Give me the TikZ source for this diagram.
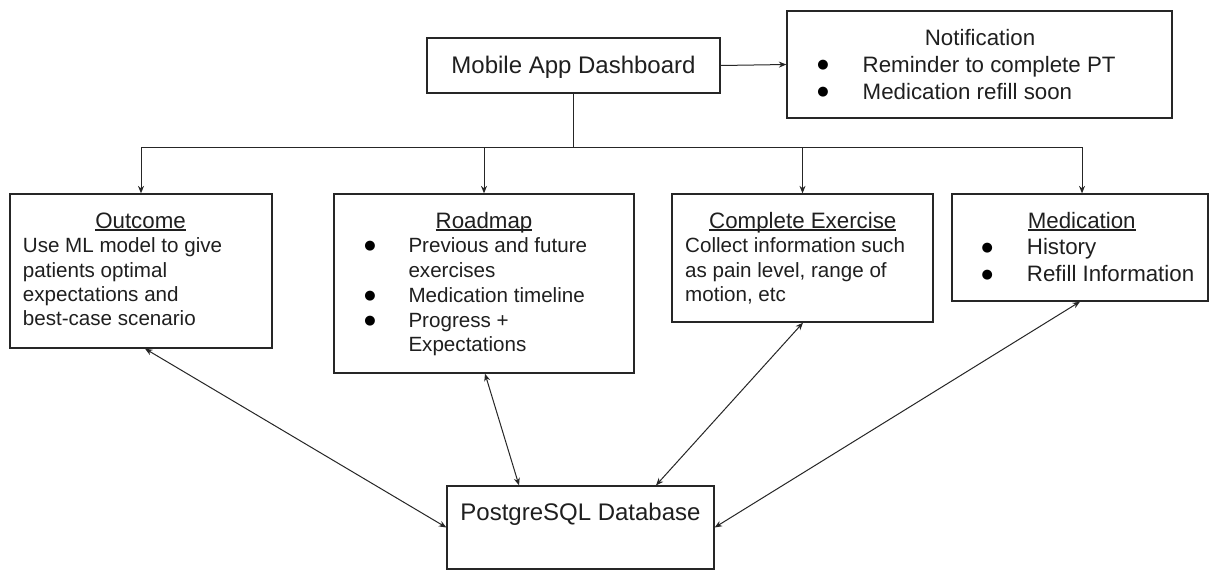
\documentclass[tikz,border=0pt]{standalone}
\usepackage{fontspec}
\setmainfont{Liberation Sans}
\newfontfamily\dvsfont{DejaVu Sans}
\usetikzlibrary{arrows.meta,calc}
\newcommand{\szBody}{\fontsize{20.6pt}{24pt}\selectfont}
\newcommand{\szMid}{\fontsize{22.3pt}{26pt}\selectfont}
\newcommand{\szBig}{\fontsize{24pt}{28pt}\selectfont}
\newcommand{\myul}[1]{\setbox0\hbox{#1}\rlap{\rule[-2.3pt]{\wd0}{1.3pt}}\box0}
\begin{document}
\begin{tikzpicture}[x=1pt,y=-1pt,
  box/.style={draw=black!85, line width=1.3pt, inner sep=0pt, fill=white},
  lt/.style={anchor=base west, inner sep=0pt, text=black!88},
  ct/.style={anchor=base, inner sep=0pt, text=black!88},
  bul/.style={anchor=center, inner sep=0pt, font=\dvsfont\fontsize{13pt}{13pt}\selectfont},
  con/.style={line width=1pt, draw=black!85},
  arr/.style={con, -{Stealth[length=7.5pt,width=6pt]}},
  darr/.style={con, {Stealth[length=7.5pt,width=6pt]}-{Stealth[length=7.5pt,width=6pt]}}]
\useasboundingbox[fill=white] (0,0) rectangle (1210,571);

% boxes
\node[box, minimum width=293pt, minimum height=55pt] (mob) at (573.5,65.5) {};
\node[box, minimum width=385pt, minimum height=107pt] (note) at (979.5,64.5) {};
\node[box, minimum width=262pt, minimum height=154pt] (out) at (141,271) {};
\node[box, minimum width=300pt, minimum height=179pt] (road) at (484,283.5) {};
\node[box, minimum width=261pt, minimum height=128pt] (comp) at (802.5,258) {};
\node[box, minimum width=256pt, minimum height=107pt] (med) at (1080,247.5) {};
\node[box, minimum width=267pt, minimum height=83pt] (pg) at (580.5,527.5) {};

% texts
\node[ct, font=\szBig] (mobt) at (573.5,73) {Mobile App Dashboard};

\node[ct, font=\szMid] (notet) at (980,45) {Notification};
\node[bul] (nb1) at (823,65.5) {●};
\node[lt, font=\szMid] (n1) at (862.5,72.7) {Reminder to complete PT};
\node[bul] (nb2) at (823,92.5) {●};
\node[lt, font=\szMid] (n2) at (862.5,99.3) {Medication refill soon};

\node[ct, font=\szMid] (outt) at (140.5,228.3) {\myul{Outcome}};
\node[lt, font=\szBody] (o1) at (22.7,252.7) {Use ML model to give};
\node[lt, font=\szBody] (o2) at (22.7,277) {patients optimal};
\node[lt, font=\szBody] (o3) at (22.7,301.3) {expectations and};
\node[lt, font=\szBody] (o4) at (22.7,325.8) {best-case scenario};

\node[ct, font=\szMid] (roadt) at (484,228.3) {\myul{Roadmap}};
\node[bul] (rb1) at (370,246) {●};
\node[lt, font=\szBody] (r1) at (408.3,252.7) {Previous and future};
\node[lt, font=\szBody] (r2) at (408.3,277.3) {exercises};
\node[bul] (rb2) at (370,296) {●};
\node[lt, font=\szBody] (r3) at (408.3,302.3) {Medication timeline};
\node[bul] (rb3) at (370,320.8) {●};
\node[lt, font=\szBody] (r4) at (408.3,327.2) {Progress +};
\node[lt, font=\szBody] (r5) at (408.3,351.7) {Expectations};

\node[ct, font=\szMid] (compt) at (802.8,228.3) {\myul{Complete Exercise}};
\node[lt, font=\szBody] (c1) at (685,252.7) {Collect information such};
\node[lt, font=\szBody] (c2) at (685,277.3) {as pain level, range of};
\node[lt, font=\szBody] (c3) at (685,301.7) {motion, etc};

\node[ct, font=\szMid] (medt) at (1081.7,228.3) {\myul{Medication}};
\node[bul] (mb1) at (987.3,248) {●};
\node[lt, font=\szMid] (m1) at (1026.7,254.3) {History};
\node[bul] (mb2) at (987.3,274.8) {●};
\node[lt, font=\szMid] (m2) at (1026.7,281) {Refill Information};

\node[ct, font=\szBig] (pgt) at (580.5,520) {PostgreSQL Database};

% top connectors
\coordinate (j) at (573.5,147);
\draw[arr] (mob.east) -- (note.west);
\draw[con] (mob.south) -- (j);
\draw[arr] (j) -| (out.north);
\draw[arr] (j) -| (road.north);
\draw[arr] (j) -| (comp.north);
\draw[arr] (j) -| ($(med.north)+(2,0)$);

% database connectors
\draw[darr] ($(out.south)+(4,0)$) -- (pg.west);
\draw[darr] ($(road.south)+(1,0)$) -- ($(pg.north)+(-61.5,0)$);
\draw[darr] ($(comp.south)+(0.5,0)$) -- ($(pg.north)+(75.5,0)$);
\draw[darr] (med.south) -- (pg.east);
\end{tikzpicture}
\end{document}
